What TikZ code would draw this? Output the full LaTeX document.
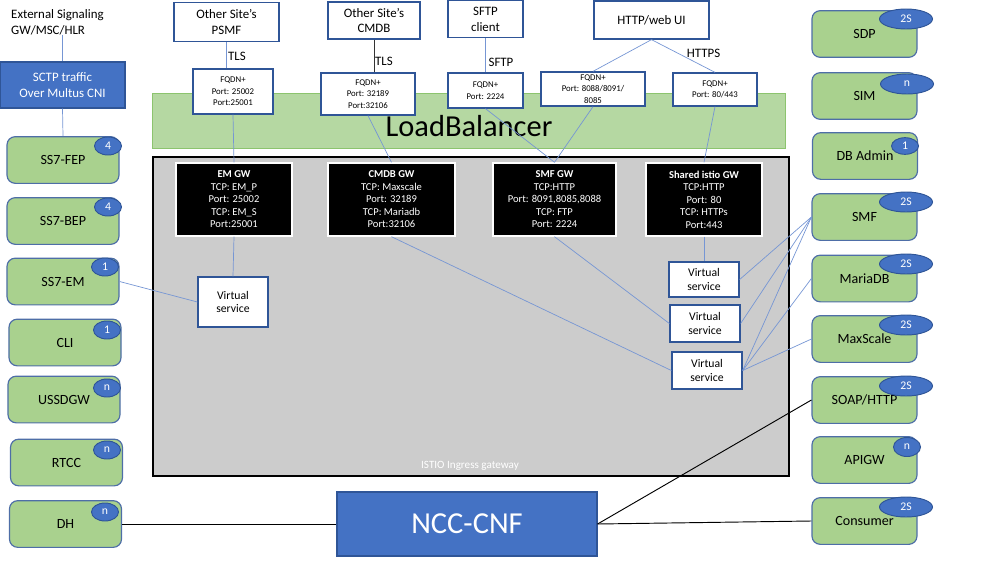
\documentclass[tikz,border=0pt]{standalone}
\usepackage{fontspec}
\setmainfont{Carlito}
\usepackage{xcolor}
\usepackage{tikz}
\usetikzlibrary{calc, positioning, shapes}

\definecolor{ncblue}{RGB}{68,114,196}
\definecolor{ncedge}{RGB}{47,85,151}
\definecolor{ncgreen}{RGB}{169,209,142}
\definecolor{nclink}{RGB}{118,150,212}
\definecolor{lbgreen}{RGB}{181,216,162}
\definecolor{lbedge}{RGB}{140,196,110}
\definecolor{istiogray}{RGB}{204,204,204}

\begin{document}
\begin{tikzpicture}[x=0.03cm, y=-0.03cm, font=\fontsize{11}{13.5}\selectfont]
		\tikzstyle{site} = [draw=ncedge, line width=1.1pt, fill=white, rectangle, inner sep=0pt, align=center]
		\tikzstyle{fqdn} = [site, font=\fontsize{7.5}{9.8}\selectfont]
		\tikzstyle{gw} = [draw=white, line width=1.2pt, fill=black, text=white, rectangle, inner sep=0pt, align=center, minimum height=2.19cm, font=\fontsize{9}{10.7}\selectfont]
		\tikzstyle{vs} = [site, minimum width=2.1cm, font=\fontsize{10}{11.4}\selectfont]
		\tikzstyle{nf} = [draw=ncedge!85, line width=1pt, fill=ncgreen, rectangle, rounded corners=7pt, minimum width=3.36cm, minimum height=1.4cm, font=\fontsize{12}{14}\selectfont]
		\tikzstyle{rnf} = [nf, minimum width=3.15cm]
		\tikzstyle{badge} = [draw=ncedge, line width=0.8pt, fill=ncblue, text=white, ellipse, inner sep=0pt, minimum width=0.81cm, minimum height=0.54cm, font=\fontsize{10}{12}\selectfont]
		\tikzstyle{wide} = [badge, minimum width=1.59cm, minimum height=0.6cm, font=\fontsize{10}{12}\selectfont]
		\tikzstyle{solid} = [draw=ncedge, line width=1pt, fill=ncblue, text=white, rectangle, inner sep=0pt, align=center]
		\tikzstyle{link} = [draw=nclink, line width=0.6pt]
		\tikzstyle{wire} = [draw=black, line width=0.8pt]
		
		\useasboundingbox (0,0) rectangle (989,563);
		
		% load balancer and istio areas
		\node[draw=lbedge, line width=0.8pt, fill=lbgreen, rectangle, minimum width=18.99cm, minimum height=1.65cm] at (468.5,120.5) (lb) {};
		\node[font=\fontsize{26}{30}\selectfont] at (469,126) (lbtext) {LoadBalancer};
		\node[draw=black, line width=1.2pt, fill=istiogray, rectangle, minimum width=19.08cm, minimum height=9.57cm] at (471,316.5) (istio) {};
		\node[text=white, font=\fontsize{9.5}{11}\selectfont] at (470,466) (istiotext) {ISTIO Ingress gateway};
		
		% left side
		\node[anchor=west, align=left, inner sep=0pt] at (11,22) (ext) {External Signaling\\GW/MSC/HLR};
		\node[solid, minimum width=3.75cm, minimum height=1.38cm] at (62.5,85) (sctp) {SCTP traffic\\Over Multus CNI};
		
		\node[nf] at (63,160)	(fep)	{SS7-FEP};
		\node[nf] at (63,221)	(bep)	{SS7-BEP};
		\node[nf] at (63,281.5)	(em)	{SS7-EM};
		\node[nf] at (65,342.5)	(cli)	{CLI};
		\node[nf] at (64,399.5)	(ussd)	{USSDGW};
		\node[nf] at (66.5,462.5)	(rtcc)	{RTCC};
		\node[nf] at (65.5,524)	(dh)	{DH};
		
		\node[badge] at (108,146)	(bfep)	{4};
		\node[badge] at (108,207)	(bbep)	{4};
		\node[badge] at (105,267)	(bem)	{1};
		\node[badge] at (107,330)	(bcli)	{1};
		\node[badge] at (107,388)	(bussd)	{n};
		\node[badge] at (107,450)	(brtcc)	{n};
		\node[badge] at (105,512)	(bdh)	{n};
		
		% right side
		\node[rnf] at (864.5,34)	(sdp)	{SDP};
		\node[rnf] at (864.5,96)	(sim)	{SIM};
		\node[rnf] at (865,156)	(dbadmin)	{DB Admin};
		\node[rnf] at (864.5,217)	(smf)	{SMF};
		\node[rnf] at (864.5,278.5)	(mariadb)	{MariaDB};
		\node[rnf] at (864.5,339)	(maxscale)	{MaxScale};
		\node[rnf] at (864.5,400)	(soap)	{SOAP/HTTP};
		\node[rnf] at (864.5,460)	(apigw)	{APIGW};
		\node[rnf] at (864.5,521)	(consumer)	{Consumer};
		
		\node[wide] at (906,19)	(bsdp)	{2S};
		\node[wide] at (907,84)	(bsim)	{n};
		\node[badge, minimum height=0.5cm] at (905,146)	(bdbadmin)	{1};
		\node[wide] at (906,202)	(bsmf)	{2S};
		\node[wide] at (906,264)	(bmariadb)	{2S};
		\node[wide] at (906,325)	(bmaxscale)	{2S};
		\node[wide] at (906,386)	(bsoap)	{2S};
		\node[badge, minimum height=0.57cm] at (907,447)	(bapigw)	{n};
		\node[wide] at (906,507)	(bconsumer)	{2S};
		
		% outside sites
		\node[site, minimum width=3.15cm, minimum height=1.17cm] at (226.5,22)	(psmf)	{Other Site’s\\PSMF};
		\node[site, minimum width=2.76cm, minimum height=1.11cm] at (374,20.5)	(cmdbsite)	{Other Site’s\\CMDB};
		\node[site, minimum width=2.25cm, minimum height=1.11cm] at (485.5,19)	(sftp)	{SFTP\\client};
		\node[site, minimum width=3.45cm, minimum height=1.14cm] at (651.5,20)	(web)	{HTTP/web UI};
		
		\node at (237,56)	(tls1)	{TLS};
		\node at (384,61)	(tls2)	{TLS};
		\node at (501,62)	(sftpl)	{SFTP};
		\node at (703.5,53)	(https)	{HTTPS};
		
		\node[fqdn, minimum width=2.4cm, minimum height=1.35cm] at (233,91.5)	(fq1)	{FQDN+\\Port: 25002\\Port:25001};
		\node[fqdn, minimum width=2.82cm, minimum height=1.26cm] at (368,94)	(fq2)	{FQDN+\\Port: 32189\\Port:32106};
		\node[fqdn, minimum width=2.25cm, minimum height=1.05cm] at (485.5,90.5)	(fq3)	{FQDN+\\Port: 2224};
		\node[fqdn, minimum width=3.12cm, minimum height=1.02cm] at (593,89)	(fq4)	{FQDN+\\Port: 8088/8091/\\8085};
		\node[fqdn, minimum width=2.52cm, minimum height=0.99cm] at (715,89.5)	(fq5)	{FQDN+\\Port: 80/443};
		
		% gateways
		\node[gw, minimum width=3.48cm] at (234,199.5)	(emgw)	{\textbf{EM GW}\\TCP: EM\_P\\Port: 25002\\TCP: EM\_S\\Port:25001};
		\node[gw, minimum width=3.81cm] at (391.5,199.5)	(cmdbgw)	{\textbf{CMDB GW}\\TCP: Maxscale\\Port: 32189\\TCP: Mariadb\\Port:32106};
		\node[gw, minimum width=3.69cm] at (554.5,199.5)	(smfgw)	{\textbf{SMF GW}\\TCP:HTTP\\Port: 8091,8085,8088\\TCP: FTP\\Port: 2224};
		\node[gw, minimum width=3.48cm] at (704,199.5)	(sharedgw)	{\textbf{Shared istio GW}\\TCP:HTTP\\Port: 80\\TCP: HTTPs\\Port:443};
		
		\node[vs, minimum height=1.5cm] at (233,302)	(vs1)	{Virtual\\service};
		\node[vs, minimum height=1.05cm] at (704,279.5)	(vs2)	{Virtual\\service};
		\node[vs, minimum height=1.11cm] at (705,323.5)	(vs3)	{Virtual\\service};
		\node[vs, minimum height=1.11cm] at (707,370.5)	(vs4)	{Virtual\\service};
		
		\node[solid, minimum width=7.8cm, minimum height=1.92cm, font=\fontsize{26}{30}\selectfont] at (467,524)	(ncc)	{NCC-CNF};
		
		% connectors
		\draw[link] (ext.south -| sctp.north) -- (sctp.north);
		\draw[link] (sctp.south) -- (fep.north);
		\draw[link] (psmf.south) -- (psmf.south |- fq1.north);
		\draw[draw=black!80, line width=0.6pt] (cmdbsite.south) -- (cmdbsite.south |- fq2.north);
		\draw[link] (sftp.south) -- (fq3.north);
		\draw[link] (web.south) -- (fq4.north);
		\draw[link] (web.south) -- (fq5.north);
		
		\draw[link] (fq1.south) -- (emgw.north);
		\draw[link] (fq2.south) -- (cmdbgw.north);
		\draw[link] (fq3.south) -- (smfgw.north);
		\draw[link] (fq4.south) -- (smfgw.north);
		\draw[link] (fq5.south) -- (sharedgw.north);
		
		\draw[link] (emgw.south) -- (vs1.north);
		\draw[link] (em.east) -- (vs1.west);
		\draw[link] (cmdbgw.south) -- (vs4.west);
		\draw[link] (smfgw.south) -- (vs3.west);
		\draw[link] (sharedgw.south) -- (vs2.north);
		
		\draw[link] (vs2.east) -- (smf.west);
		\draw[link] (vs3.east) -- (smf.west);
		\draw[link] (vs4.east) -- (smf.west);
		\draw[link] (vs4.east) -- (mariadb.west);
		\draw[link] (vs4.east) -- (maxscale.west);
		
		\draw[wire] (dh.east) -- (ncc.west);
		\draw[wire] (ncc.east) -- (soap.west);
		\draw[wire] (ncc.east) -- (consumer.west);
	\end{tikzpicture}
\end{document}
